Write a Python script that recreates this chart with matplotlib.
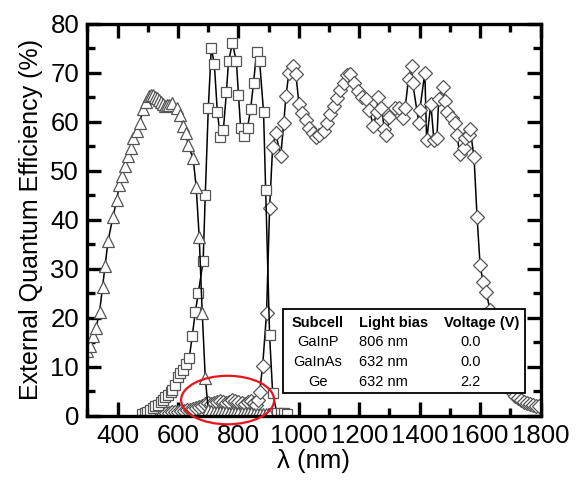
import numpy as np
import matplotlib
matplotlib.use("Agg")
import matplotlib.pyplot as plt
from matplotlib.patches import Ellipse, Rectangle

plt.rcParams['font.family'] = ['Liberation Sans', 'DejaVu Sans']

# GaInP top cell (triangles)
gainp_wl = [300, 310, 318, 328, 340, 350, 358, 368, 384, 397, 405, 413, 423, 433,
            443, 450, 463, 473, 483, 493, 503, 510, 517, 523, 530, 537, 543, 550,
            557, 563, 570, 580, 597, 607, 617, 627, 633, 650, 660, 670, 680, 690,
            700, 710, 720, 730, 740, 750, 760, 770, 780, 790, 800, 810, 820, 830,
            840, 850, 860, 870, 880, 890, 900]
gainp_eqe = [13.2, 14.2, 16.3, 17.8, 21.2, 26.3, 30.5, 35.6, 40.5, 44.0, 47.0, 49.0,
             51.0, 53.0, 54.6, 56.6, 58.2, 59.8, 62.5, 64.0, 65.2, 65.5, 65.4, 65.0,
             64.8, 64.5, 64.0, 63.6, 63.3, 63.4, 63.5, 63.8, 62.8, 61.3, 59.2, 57.6,
             55.2, 52.5, 46.6, 36.4, 21.0, 7.7, 1.2, 0.9, 0.8, 0.8, 0.7, 0.7, 0.7,
             0.6, 0.6, 0.6, 0.5, 0.5, 0.5, 0.5, 0.5, 0.4, 0.4, 0.4, 0.4, 0.3, 0.3]

# GaInAs middle cell (squares)
gainas_wl = [480, 490, 497, 507, 517, 525, 533, 542, 550, 558, 567, 575, 580, 590,
             600, 608, 617, 627, 637, 647, 657, 667, 683, 690, 700, 710, 720, 730,
             740, 750, 760, 767, 780, 793, 800, 807, 817, 830, 840, 850, 860, 870,
             883, 890, 903, 913, 927, 940, 950, 960]
gainas_eqe = [0.4, 0.6, 0.8, 1.2, 1.6, 1.9, 2.2, 2.8, 3.3, 3.8, 4.3, 4.9, 5.3, 6.3,
              8.0, 8.8, 9.4, 10.5, 11.8, 16.3, 21.2, 25.0, 31.6, 45.0, 62.7, 75.0,
              71.8, 62.0, 56.8, 58.4, 66.0, 72.3, 76.0, 72.3, 65.5, 58.8, 57.0, 58.8,
              62.5, 68.0, 74.3, 72.3, 62.0, 46.0, 16.5, 4.7, 0.6, 0.5, 0.5, 0.4]

# Ge bottom cell (diamonds)
ge_wl = [500, 510, 520, 530, 540, 550, 560, 570, 580, 590, 600, 610, 620, 630, 640,
         650, 660, 670, 680, 690, 700, 710, 720, 730, 740, 750, 760, 770, 780, 790,
         800, 810, 820, 830, 840, 850, 857, 863, 870, 880, 893, 903, 913, 923, 940,
         950, 957, 967, 980, 990, 1000, 1010, 1023, 1033, 1047, 1057, 1067, 1083,
         1093, 1103, 1115, 1125, 1135, 1148, 1160, 1170, 1183, 1197, 1208, 1222,
         1233, 1247, 1257, 1263, 1273, 1283, 1290, 1300, 1317, 1333, 1345, 1352,
         1363, 1373, 1377, 1397, 1400, 1417, 1423, 1437, 1447, 1457, 1463, 1477,
         1483, 1490, 1507, 1517, 1523, 1533, 1547, 1550, 1563, 1567, 1580, 1590,
         1600, 1610, 1620, 1633, 1645, 1655, 1665, 1675, 1685, 1695, 1705, 1715,
         1725, 1735, 1745, 1755, 1765, 1775, 1785, 1795]
ge_eqe = [0.3, 0.3, 0.4, 0.4, 0.5, 0.5, 0.6, 0.6, 0.7, 0.7, 0.8, 0.9, 1.0, 1.1, 1.2,
          1.4, 1.5, 1.7, 1.9, 2.3, 2.6, 2.4, 2.6, 2.9, 3.1, 2.8, 2.6, 2.9, 3.2, 3.0,
          2.8, 2.5, 2.4, 2.7, 3.0, 2.6, 2.2, 3.3, 4.9, 10.2, 21.0, 42.3, 54.8, 57.6,
          53.1, 59.8, 65.2, 70.0, 71.4, 69.8, 63.7, 61.7, 60.3, 58.8, 57.7, 56.8,
          57.2, 58.2, 59.8, 61.5, 63.3, 64.8, 66.4, 67.8, 69.6, 69.8, 68.0, 66.3,
          65.0, 64.7, 62.3, 59.2, 61.9, 65.0, 62.9, 58.6, 57.2, 60.9, 62.9, 62.7,
          60.7, 62.9, 68.8, 71.4, 67.8, 59.8, 62.3, 70.0, 56.2, 63.7, 56.2, 56.6,
          64.7, 67.0, 64.3, 61.9, 60.7, 59.8, 57.2, 53.5, 54.6, 56.6, 57.2, 58.6,
          52.7, 40.5, 30.7, 27.3, 25.2, 21.6, 18.0, 15.0, 12.0, 9.5, 7.5, 6.0, 4.8,
          4.1, 3.6, 3.2, 2.9, 2.6, 2.4, 2.2, 2.0, 1.9]

table_header = ['Subcell', 'Light bias', 'Voltage (V)']
subcells = ['GaInP', 'GaInAs', 'Ge']
light_bias = ['806 nm', '632 nm', '632 nm']
voltages = ['0.0', '0.0', '2.2']

fig = plt.figure(figsize=(5.82, 4.83), dpi=100)
ax = fig.add_axes([0.1503, 0.1393, 0.7784, 0.8116])

style = dict(color='black', lw=1.1, mfc='white', mec='#555555', mew=0.9)
ax.plot(ge_wl, ge_eqe, marker='D', ms=7.2, **style)
ax.plot(gainas_wl, gainas_eqe, marker='s', ms=7, **style)
ax.plot(gainp_wl, gainp_eqe, marker='^', ms=8.5, **style)

ax.set_xlim(300, 1800)
ax.set_ylim(0, 80)
ax.set_xticks(np.arange(400, 1801, 200))
ax.set_xticks(np.arange(300, 1801, 100), minor=True)
ax.set_yticks(np.arange(0, 81, 10))
ax.set_yticks(np.arange(0, 81, 5), minor=True)
ax.tick_params(which='both', direction='in', top=True, right=True, width=2.4,
               labelsize=18.5)
ax.tick_params(which='major', length=10, pad=6)
ax.tick_params(which='minor', length=6)
for s in ax.spines.values():
    s.set_linewidth(2.4)

ax.set_xlabel('λ (nm)', fontsize=18.5, labelpad=1)
ax.set_ylabel('External Quantum Efficiency (%)', fontsize=18, labelpad=5)

# bias conditions box
ax.add_patch(Rectangle((0.4316, 0.058), 0.5342, 0.214, transform=ax.transAxes,
                       fc='white', ec='black', lw=1.3, zorder=5))
rows_y = [0.188, 0.137, 0.086]
ax.text(0.509, 0.236, table_header[0], transform=ax.transAxes, ha='center',
        va='center', fontsize=10.5, fontweight='bold', zorder=6)
ax.text(0.599, 0.236, table_header[1], transform=ax.transAxes, ha='left',
        va='center', fontsize=10.5, fontweight='bold', zorder=6)
ax.text(0.871, 0.236, table_header[2], transform=ax.transAxes, ha='center',
        va='center', fontsize=10.5, fontweight='bold', zorder=6)
for y, c, b, v in zip(rows_y, subcells, light_bias, voltages):
    ax.text(0.509, y, c, transform=ax.transAxes, ha='center', va='center',
            fontsize=10.5, zorder=6)
    ax.text(0.599, y, b, transform=ax.transAxes, ha='left', va='center',
            fontsize=10.5, zorder=6)
    ax.text(0.845, y, v, transform=ax.transAxes, ha='center', va='center',
            fontsize=10.5, zorder=6)

# highlight of the Ge signal below the GaInAs band
ax.add_patch(Ellipse((764, 3.2), 308, 9.9, fill=False, ec='#e8141c', lw=1.6,
                     clip_on=False, zorder=7))

fig.savefig('out.png', dpi=100)
